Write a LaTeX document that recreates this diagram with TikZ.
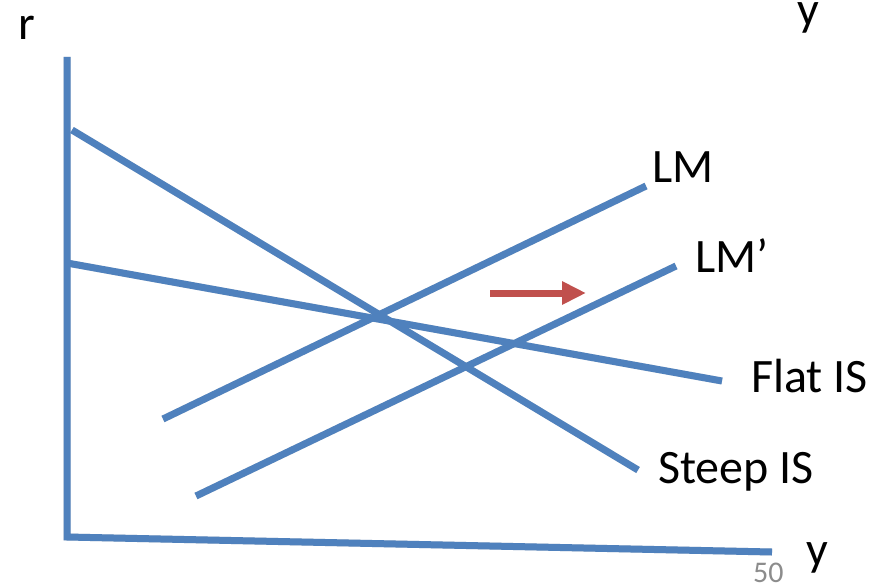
\documentclass[tikz,border=0pt]{standalone}
\usepackage{fontspec}
\setmainfont{Carlito}
\usetikzlibrary{arrows.meta}
\definecolor{lineblue}{HTML}{4F81BD}
\definecolor{arrowred}{HTML}{C0504D}
\begin{document}
\begin{tikzpicture}[x=1pt,y=-1pt,
  curve/.style={draw=lineblue,line width=7pt},
  lbl/.style={font=\fontsize{48}{48}\selectfont,inner sep=0pt,anchor=base west},
  shadowline/.style={draw=black!25,line width=7pt,opacity=0.5}]
\useasboundingbox[fill=white] (0,0) rectangle (875,586);
% coordinates
\coordinate (yt) at (67,57);
\coordinate (o) at (67,537);
\coordinate (xe) at (772,552);
\coordinate (s1) at (72,130);
\coordinate (s2) at (638,470);
\coordinate (f1) at (67,263);
\coordinate (f2) at (722,381);
\coordinate (l1) at (163,419);
\coordinate (l2) at (646,186);
\coordinate (m1) at (196,496);
\coordinate (m2) at (676,266);
\coordinate (a1) at (490,293);
\coordinate (a2) at (586,293);
% shadows
\begin{scope}[shift={(2,3)}]
\draw[shadowline] (yt) -- (o) -- (xe);
\draw[shadowline] (s1) -- (s2);
\draw[shadowline] (f1) -- (f2);
\draw[shadowline] (l1) -- (l2);
\draw[shadowline] (m1) -- (m2);
\end{scope}
% lines
\draw[curve,line join=miter] (yt) -- (o) -- (xe);
\draw[curve] (s1) -- (s2);
\draw[curve] (f1) -- (f2);
\draw[curve] (l1) -- (l2);
\draw[curve] (m1) -- (m2);
\draw[arrowred,line width=7pt,-{Triangle[length=24pt,width=22pt]}] (a1) -- (a2);
% labels
\node[lbl] (r) at (18,40) {r};
\node[lbl] (ytop) at (797,26) {y};
\node[lbl] (lm) at (652,182) {LM};
\node[lbl] (lmp) at (695,272) {LM’};
\node[lbl] (flat) at (751,392) {Flat IS};
\node[lbl] (steep) at (658,483) {Steep IS};
\node[lbl] (ybot) at (806,565) {y};
\node[lbl,text=black!45,font=\fontsize{30}{30}\selectfont] (pg) at (753,582) {50};
\end{tikzpicture}
\end{document}
